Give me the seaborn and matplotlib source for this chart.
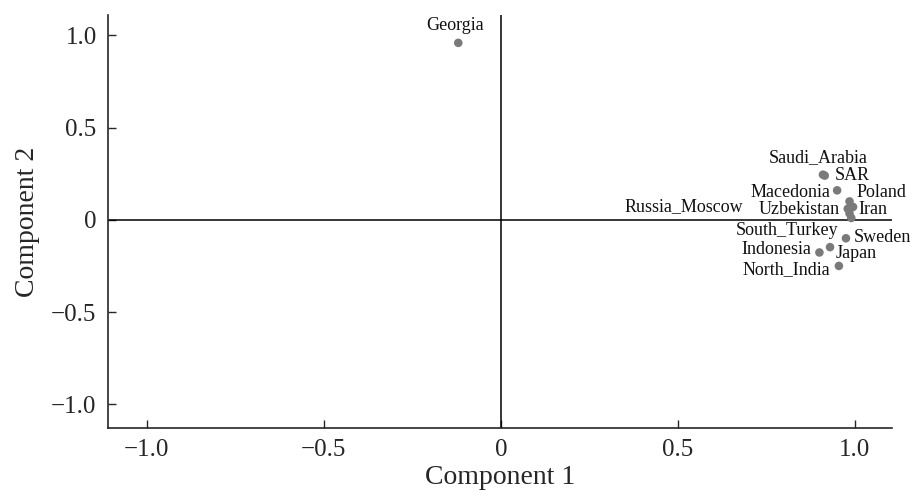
import matplotlib
matplotlib.use("Agg")
import matplotlib.pyplot as plt
import seaborn as sns
import pandas as pd

# ── Data ───────────────────────────────────────────────────────────────────
countries = ["Georgia", "Saudi_Arabia", "SAR", "Macedonia", "Poland",
             "Russia_Moscow", "Uzbekistan", "Iran", "South_Turkey",
             "Sweden", "Japan", "Indonesia", "North_India"]
comp1 = [-0.12, 0.91, 0.915, 0.95, 0.985, 0.99, 0.98, 0.995, 0.985,
         0.975, 0.93, 0.90, 0.955]
comp2 = [0.96, 0.245, 0.24, 0.16, 0.10, 0.01, 0.06, 0.07, 0.035,
         -0.10, -0.148, -0.177, -0.25]

tick_vals = [-1.0, -0.5, 0, 0.5, 1.0]
tick_labels = ["\u22121.0", "\u22120.5", "0", "0.5", "1.0"]

# label placement: (dx, dy in pixels, horizontal alignment)
label_pos = {
    "Georgia": (-3, 17, "center"),
    "Saudi_Arabia": (-5, 17, "center"),
    "SAR": (10, 0, "left"),
    "Macedonia": (-7, -2, "right"),
    "Poland": (7, 9, "left"),
    "Russia_Moscow": (-108, 11, "right"),
    "Uzbekistan": (-8, -1, "right"),
    "Iran": (5, -3, "left"),
    "South_Turkey": (-11, -17, "right"),
    "Sweden": (8, 1, "left"),
    "Japan": (6, -6, "left"),
    "Indonesia": (-8, 3, "right"),
    "North_India": (-9, -4, "right"),
}

df = pd.DataFrame({"country": countries, "c1": comp1, "c2": comp2})

sns.set_style("ticks")
plt.rcParams["font.family"] = ["Liberation Serif", "DejaVu Serif"]

fig = plt.figure(figsize=(9.13, 4.91), dpi=100)
ax = fig.add_axes([0.118, 0.128, 0.859, 0.841])

ax.axhline(0, color="black", lw=1.1, zorder=1)
ax.axvline(0, color="black", lw=1.1, zorder=1)

sns.scatterplot(data=df, x="c1", y="c2", color="#7a7a7a", s=38,
                edgecolor="none", ax=ax, zorder=3)

for name, x, y in zip(countries, comp1, comp2):
    dx, dy, ha = label_pos[name]
    ax.annotate(name, (x, y), xytext=(dx, dy), textcoords="offset pixels",
                ha=ha, va="center", fontsize=13, color="#111111")

ax.set_xlim(-1.11, 1.105)
ax.set_ylim(-1.13, 1.11)
ax.set_xticks(tick_vals)
ax.set_xticklabels(tick_labels)
ax.set_yticks(tick_vals)
ax.set_yticklabels(tick_labels)
ax.tick_params(direction="in", length=6, width=1, labelsize=18, pad=8)

for side in ["top", "right"]:
    ax.spines[side].set_visible(False)
for side in ["left", "bottom"]:
    ax.spines[side].set_linewidth(1.2)

ax.set_xlabel("Component 1", fontsize=20, labelpad=3)
ax.set_ylabel("Component 2", fontsize=20, labelpad=8)

fig.savefig("out.png", dpi=100)
